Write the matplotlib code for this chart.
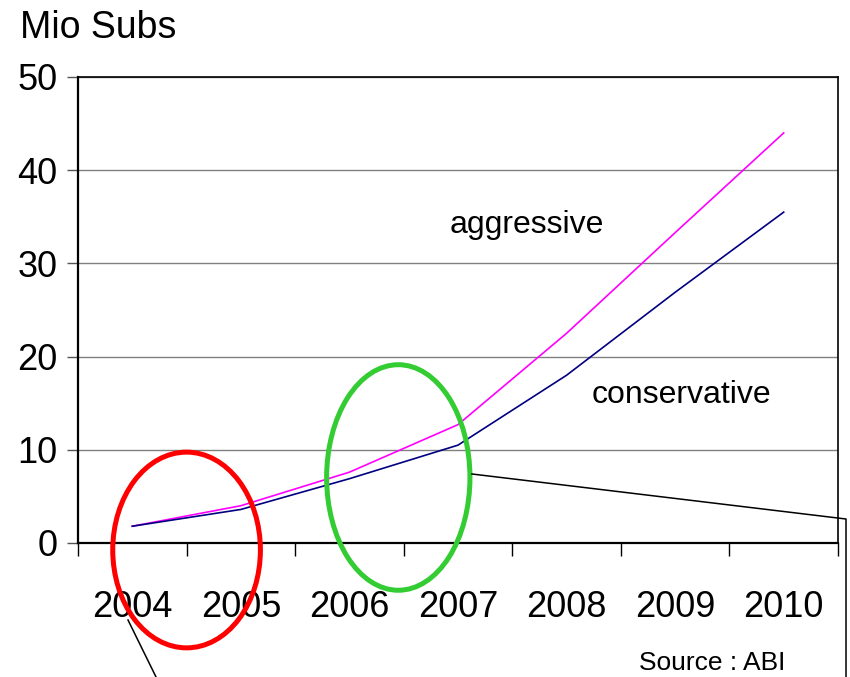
import matplotlib
matplotlib.use("Agg")
import matplotlib.pyplot as plt
from matplotlib.patches import Ellipse
from matplotlib.ticker import FixedLocator

plt.rcParams['font.family'] = ['Liberation Sans', 'DejaVu Sans']

years = ["2004", "2005", "2006", "2007", "2008", "2009", "2010"]
aggressive = [1.8, 4.0, 7.6, 12.7, 22.5, 33.3, 44.0]
conservative = [1.8, 3.6, 6.9, 10.5, 18.0, 26.9, 35.5]
yticks = [0, 10, 20, 30, 40, 50]

W, H = 850, 677
fig = plt.figure(figsize=(W / 100, H / 100), dpi=100)
ax = fig.add_axes([78 / W, 1 - 543 / H, 760 / W, 466 / H])

x = list(range(len(years)))
ax.plot(x, aggressive, color="#FF00FF", lw=1.2, zorder=3)
ax.plot(x, conservative, color="#000080", lw=1.2, zorder=3)

ax.set_xlim(-0.5, len(years) - 0.5)
ax.set_ylim(0, 50)
ax.set_yticks(yticks)
ax.set_yticklabels([str(v) for v in yticks], fontsize=26)
ax.set_xticks(x)
ax.set_xticklabels(years, fontsize=26)
ax.xaxis.set_minor_locator(FixedLocator([i - 0.5 for i in range(len(years) + 1)]))
ax.tick_params(axis='x', which='major', length=0, pad=34)
ax.tick_params(axis='x', which='minor', length=9, width=1, color='black', direction='out')
ax.tick_params(axis='y', which='major', length=8, width=1, color='#555555', direction='out', pad=7)
ax.grid(axis='y', color='#808080', lw=1)
ax.set_axisbelow(True)
for s in ['left', 'bottom']:
    ax.spines[s].set_linewidth(1.6)
for s in ['top', 'right']:
    ax.spines[s].set_linewidth(1.2)

ax.text(3.63, 34.1, "aggressive", fontsize=23, ha='center', va='center')
ax.text(5.06, 15.9, "conservative", fontsize=23, ha='center', va='center')

ax.add_patch(Ellipse((0.5, -0.75), 1.36, 21.0, fill=False, ec='#FF0000', lw=3.6, clip_on=False, zorder=5))
ax.add_patch(Ellipse((2.45, 7.03), 1.32, 24.2, fill=False, ec='#33CC33', lw=3.6, clip_on=False, zorder=5))

fig.text(20 / W, 1 - 38 / H, "Mio Subs", fontsize=27, ha='left', va='baseline')
fig.text(712 / W, 1 - 663 / H, "Source : ABI", fontsize=19, ha='center', va='center')

ov = fig.add_axes([0, 0, 1, 1], zorder=10)
ov.set_xlim(0, W)
ov.set_ylim(H, 0)
ov.axis('off')
ov.patch.set_alpha(0)
ov.plot([472, 846, 846], [474, 519, 677], color='black', lw=1.1)
ov.plot([128, 158], [620, 681], color='black', lw=1.1)

fig.savefig("out.png", dpi=100)
